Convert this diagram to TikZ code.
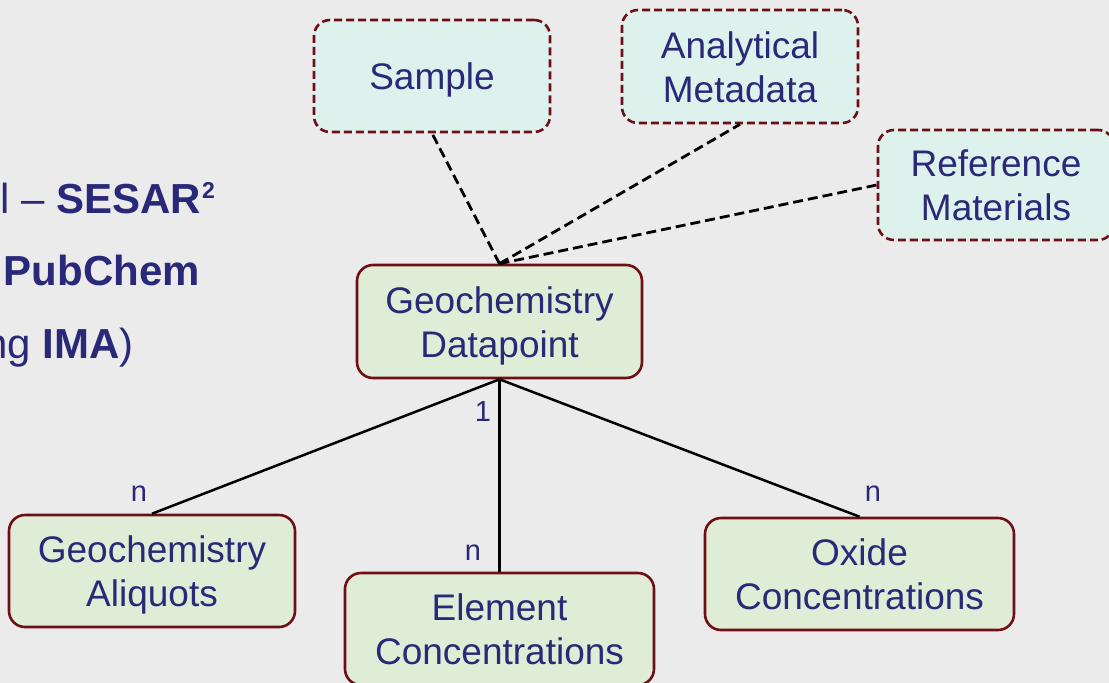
\documentclass[tikz,border=0pt]{standalone}
\usepackage{fontspec}
\setmainfont{Liberation Sans}
\definecolor{navy}{RGB}{42,40,120}
\definecolor{boxborder}{RGB}{110,14,22}
\definecolor{greenfill}{RGB}{223,237,215}
\definecolor{cyanfill}{RGB}{222,242,237}
\definecolor{bgcol}{RGB}{235,235,235}
\newcommand{\boxtwo}[2]{\raisebox{0pt}[71pt][0pt]{\begin{tabular}[b]{@{}c@{}}#1\\#2\end{tabular}}}
\newcommand{\boxone}[1]{\raisebox{0pt}[27pt][0pt]{#1}}
\tikzset{
  entity/.style={rectangle, rounded corners=16pt, draw=boxborder, line width=2.6pt,
    fill=greenfill, text=navy, inner sep=0pt,
    font=\fontsize{37}{44}\selectfont, align=center},
  optentity/.style={entity, fill=cyanfill, dash pattern=on 8pt off 4pt},
  optlink/.style={draw=black, line width=2.8pt, dash pattern=on 10pt off 5pt},
  link/.style={draw=black, line width=2.5pt},
  card/.style={text=navy, inner sep=0pt, font=\fontsize{29}{33}\selectfont},
  lefttext/.style={text=navy, inner sep=0pt, font=\fontsize{42}{50}\selectfont, anchor=base east}
}
\begin{document}
\begin{tikzpicture}[x=1pt,y=-1pt]
\useasboundingbox (0,0) rectangle (1109,683);
\fill[bgcol] (0,0) rectangle (1109,683);

% left partial text
\node[lefttext] (t1) at (215,213) {l – \textbf{SESAR}\hspace{1pt}\raisebox{15pt}{\fontsize{23}{23}\selectfont\textbf{2}}};
\node[lefttext] (t2) at (200,285) {\textbf{PubChem}};
\node[lefttext] (t3) at (134,358) {ng \textbf{IMA})};

% optional entities
\node[optentity, minimum width=236pt, minimum height=112pt] (sample) at (432,76) {\boxone{Sample}};
\node[optentity, minimum width=236pt, minimum height=113pt] (analytical) at (740,66.5) {\boxtwo{Analytical}{Metadata}};
\node[optentity, minimum width=236pt, minimum height=110pt] (reference) at (996,185) {\boxtwo{Reference}{Materials}};

% main entities
\node[entity, minimum width=285pt, minimum height=113pt] (datapoint) at (499.5,321.5) {\boxtwo{Geochemistry}{Datapoint}};
\node[entity, minimum width=286pt, minimum height=112pt] (aliquots) at (152,571) {\boxtwo{Geochemistry}{Aliquots}};
\node[entity, minimum width=309pt, minimum height=112pt] (element) at (499.5,629) {\boxtwo{Element}{Concentrations}};
\node[entity, minimum width=309pt, minimum height=112pt] (oxide) at (859.5,574) {\boxtwo{Oxide}{Concentrations}};

% dashed links
\draw[optlink] (datapoint.north) -- (sample.south);
\draw[optlink] (datapoint.north) -- (analytical.south);
\draw[optlink] (datapoint.north) -- (reference.west);

% solid links
\draw[link] (datapoint.south) -- (aliquots.north);
\draw[link] (datapoint.south) -- (element.north);
\draw[link] (datapoint.south) -- (oxide.north);

% cardinalities
\node[card] (c1) at (483,412) {1};
\node[card] (cn1) at (139,494) {n};
\node[card] (cn2) at (473,553) {n};
\node[card] (cn3) at (873,494) {n};
\end{tikzpicture}
\end{document}
